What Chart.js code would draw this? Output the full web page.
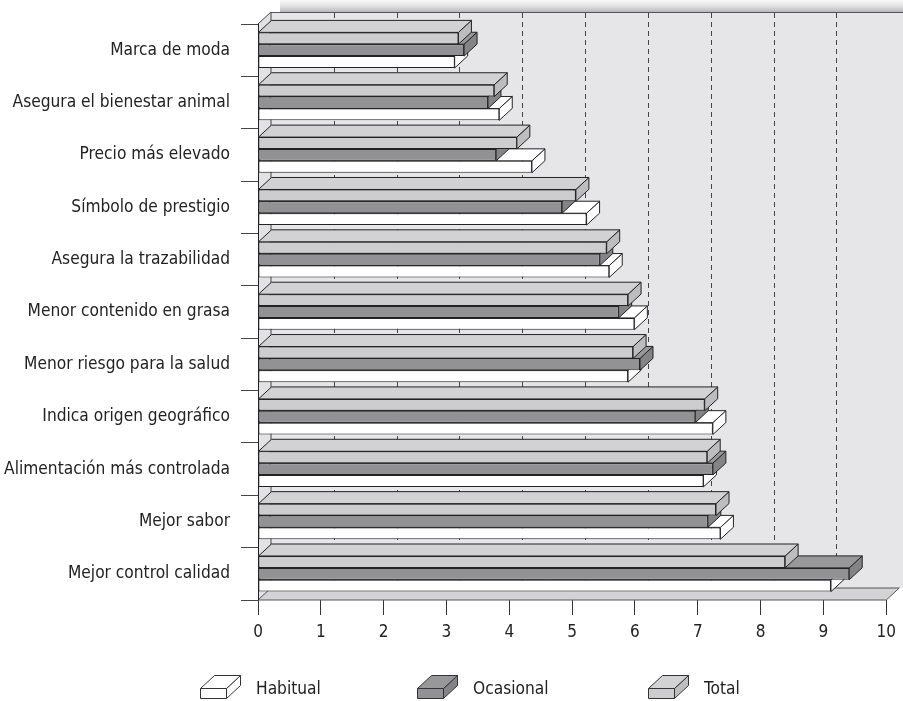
<!DOCTYPE html>
<html>
<head>
<meta charset="utf-8">
<script src="https://cdn.jsdelivr.net/npm/chart.js@4.4.0/dist/chart.umd.min.js"></script>
<style>
html, body { margin: 0; padding: 0; background: #fff; }
#caja { width: 903px; height: 701px; }
</style>
</head>
<body>
<div id="caja"><canvas id="graph" width="903" height="701"></canvas></div>
<script>
// categorias de arriba a abajo
var categorias = [
	'Marca de moda',
	'Asegura el bienestar animal',
	'Precio más elevado',
	'Símbolo de prestigio',
	'Asegura la trazabilidad',
	'Menor contenido en grasa',
	'Menor riesgo para la salud',
	'Indica origen geográfico',
	'Alimentación más controlada',
	'Mejor sabor',
	'Mejor control calidad'
];

// valores
var habitual  = [3.13, 3.84, 4.36, 5.23, 5.59, 5.99, 5.89, 7.24, 7.09, 7.36, 9.12];
var ocasional = [3.28, 3.66, 3.79, 4.84, 5.44, 5.74, 6.08, 6.96, 7.24, 7.16, 9.41];
var total     = [3.19, 3.76, 4.12, 5.06, 5.55, 5.89, 5.97, 7.11, 7.15, 7.29, 8.39];

var marcasX = [0, 1, 2, 3, 4, 5, 6, 7, 8, 9, 10];

// profundidad del efecto 3D
var DX = 13, DY = -12;

var fuente = "'DejaVu Sans Condensed', 'Liberation Sans', Arial, sans-serif";

var cvs = document.getElementById('graph');
var ctx = cvs.getContext('2d');

Chart.defaults.font.family = fuente;
Chart.defaults.font.size = 17;
Chart.defaults.color = '#222';

function poligono(c, pts, relleno, linea) {
	c.beginPath();
	c.moveTo(pts[0][0], pts[0][1]);
	for (var i = 1; i < pts.length; i++) c.lineTo(pts[i][0], pts[i][1]);
	c.closePath();
	if (relleno) { c.fillStyle = relleno; c.fill(); }
	if (linea) { c.strokeStyle = linea; c.lineWidth = 1; c.stroke(); }
}

// icono de la leyenda (caja en 3D)
function cajaLeyenda(c, x, y, ds) {
	var w = 26, h = 10, dx = 14, dy = -13;
	poligono(c, [[x + w, y], [x + w + dx, y + dy], [x + w + dx, y + h + dy], [x + w, y + h]], ds.lado, '#333');
	poligono(c, [[x, y], [x + w, y], [x + w + dx, y + dy], [x + dx, y + dy]], ds.arriba, '#333');
	poligono(c, [[x, y], [x + w, y], [x + w, y + h], [x, y + h]], ds.backgroundColor, '#333');
}

var tresD = {
	id: 'tresD',
	beforeDatasetsDraw: function(chart) {
		var c = chart.ctx, a = chart.chartArea, xs = chart.scales.x;
		var L = a.left, R = a.right, T = a.top, B = a.bottom;
		c.save();
		// sombra superior
		var g = c.createLinearGradient(0, 0, 0, T + DY);
		g.addColorStop(0, '#fafafa');
		g.addColorStop(0.5, '#e2e2e3');
		g.addColorStop(1, '#b8b8ba');
		c.fillStyle = g;
		c.fillRect(L + DX + 9, 0, chart.width - L - DX - 9, T + DY);
		// pared del fondo
		poligono(c, [[L + DX, T + DY], [chart.width + 2, T + DY], [chart.width + 2, B + DY], [L + DX, B + DY]], '#e6e6e8', null);
		c.strokeStyle = '#555';
		c.lineWidth = 1;
		c.beginPath();
		c.moveTo(L + DX, T + DY + 0.5); c.lineTo(chart.width, T + DY + 0.5);
		c.stroke();
		// lineas de division discontinuas
		c.setLineDash([5, 4]);
		c.strokeStyle = '#444';
		for (var v = 1; v < 10; v++) {
			var px = Math.round(xs.getPixelForValue(v) + DX) + 0.5;
			c.beginPath();
			c.moveTo(px, T + DY + 1);
			c.lineTo(px, B + DY);
			c.stroke();
		}
		c.setLineDash([]);
		// pared izquierda
		poligono(c, [[L, T], [L + DX, T + DY], [L + DX, B + DY], [L, B]], '#e2e2e4', null);
		c.strokeStyle = '#444';
		c.beginPath();
		c.moveTo(L, T); c.lineTo(L + DX, T + DY); c.lineTo(L + DX, B + DY);
		c.stroke();
		// suelo
		poligono(c, [[L, B], [R, B], [R + DX, B + DY], [L + DX, B + DY]], '#d3d3d5', '#555');
		// eje vertical
		c.strokeStyle = '#222';
		c.beginPath();
		c.moveTo(L + 0.5, T); c.lineTo(L + 0.5, B);
		c.stroke();
		c.restore();
	},
	beforeDatasetDraw: function(chart, args) {
		var c = chart.ctx;
		var ds = chart.data.datasets[args.index];
		c.save();
		args.meta.data.forEach(function(bar) {
			var p = bar.getProps(['x', 'y', 'base', 'height'], true);
			var t = p.y - p.height / 2, b = p.y + p.height / 2;
			poligono(c, [[p.x, t], [p.x + DX, t + DY], [p.x + DX, b + DY], [p.x, b]], ds.lado, '#222');
			poligono(c, [[p.base, t], [p.x, t], [p.x + DX, t + DY], [p.base + DX, t + DY]], ds.arriba, '#222');
		});
		c.restore();
	},
	afterDraw: function(chart) {
		var c = chart.ctx;
		var d = chart.data.datasets;
		// orden de la leyenda: Habitual, Ocasional, Total
		var items = [[d[2], 200], [d[1], 417], [d[0], 648]];
		c.save();
		c.font = '17.2px ' + fuente;
		c.textBaseline = 'middle';
		items.forEach(function(it) {
			cajaLeyenda(c, it[1] + 0.5, 688.5, it[0]);
			c.fillStyle = '#222';
			c.fillText(it[0].label, it[1] + 56, 690);
		});
		c.restore();
	}
};

var chart = new Chart(ctx, {
	type: 'bar',
	data: {
		labels: categorias,
		datasets: [{
			label: 'Total',
			data: total,
			backgroundColor: '#cdcdcf',
			arriba: '#d2d2d4',
			lado: '#bdbdbf',
			borderColor: '#222',
			borderWidth: 1,
			borderSkipped: false
		}, {
			label: 'Ocasional',
			data: ocasional,
			backgroundColor: '#929295',
			arriba: '#98989b',
			lado: '#848487',
			borderColor: '#222',
			borderWidth: 1,
			borderSkipped: false
		}, {
			label: 'Habitual',
			data: habitual,
			backgroundColor: '#ffffff',
			arriba: '#ffffff',
			lado: '#ffffff',
			borderColor: '#222',
			borderWidth: 1,
			borderSkipped: false
		}]
	},
	options: {
		indexAxis: 'y',
		responsive: false,
		animation: false,
		categoryPercentage: 0.68,
		barPercentage: 1,
		layout: { padding: { left: 0, right: 10, top: 24, bottom: 51 } },
		plugins: {
			legend: { display: false },
			tooltip: { enabled: false }
		},
		scales: {
			x: {
				min: 0,
				max: 10,
				afterBuildTicks: function(s) { s.ticks = marcasX.map(function(v) { return { value: v }; }); },
				afterFit: function(s) { s.height = 50; },
				ticks: { padding: 7, color: '#222', font: { size: 17 } },
				grid: { drawOnChartArea: false, tickLength: 15, color: '#333' },
				border: { display: false }
			},
			y: {
				afterFit: function(s) { s.width = 258; },
				ticks: { padding: 11, color: '#222', font: { size: 17.2 } },
				grid: { drawOnChartArea: false, tickLength: 17, color: '#444', offset: true },
				border: { display: false }
			}
		}
	},
	plugins: [tresD]
});
</script>
</body>
</html>
